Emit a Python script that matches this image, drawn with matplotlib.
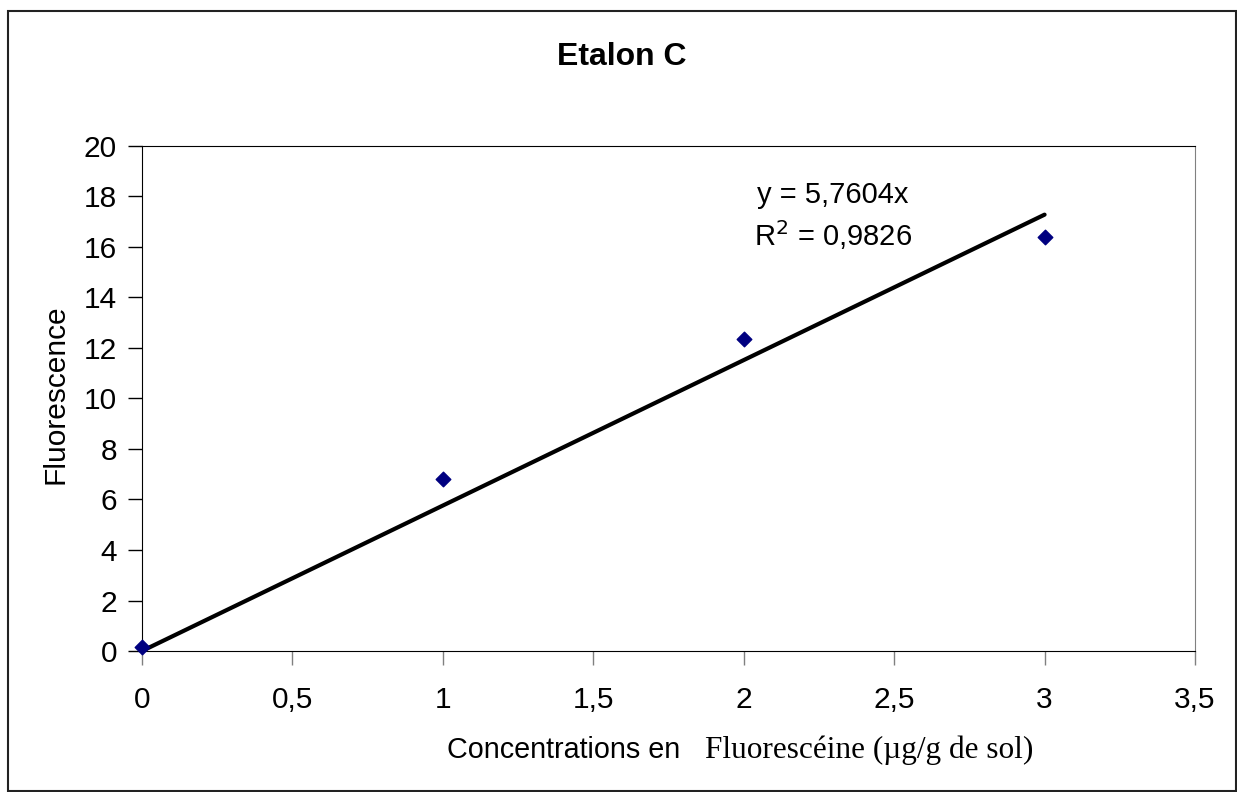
import numpy as np
import matplotlib.pyplot as plt
from matplotlib.patches import Rectangle

conc = [0, 1, 2, 3]
fluo = [0.16, 6.8, 12.34, 16.38]
pente = 5.7604
r2 = 0.9826

xticks = [0, 0.5, 1, 1.5, 2, 2.5, 3, 3.5]
xlabels = ['0', '0,5', '1', '1,5', '2', '2,5', '3', '3,5']
yticks = list(range(0, 21, 2))

fig = plt.figure(figsize=(12.37, 7.92), dpi=100)
fig.patch.set_facecolor('white')
fig.patches.append(Rectangle((8/1237, 1/792), 1228/1237, 780/792, transform=fig.transFigure,
                             fill=False, edgecolor='#222222', linewidth=1.5))

ax = fig.add_axes([142/1237, 141/792, 1053/1237, 505/792])

xr = np.array([0, 3])
ax.plot(xr, pente * xr, color='black', linewidth=3, solid_capstyle='round', zorder=2)
ax.scatter(conc, fluo, marker='D', s=55, color='#000080', zorder=3, clip_on=False)

ax.set_xlim(0, 3.5)
ax.set_ylim(0, 20)
ax.set_xticks(xticks)
ax.set_xticklabels(xlabels)
ax.set_yticks(yticks)

ax.spines['right'].set_color('#808080')
for s in ['left', 'bottom', 'top']:
    ax.spines[s].set_color('black')
ax.tick_params(axis='x', direction='out', length=10, width=1, color='#808080', pad=15,
               labelsize=21.5)
ax.tick_params(axis='y', direction='out', length=10, width=1, color='black', pad=8,
               labelsize=21.5)
for lab in ax.get_xticklabels() + ax.get_yticklabels():
    lab.set_fontfamily('Liberation Sans')

ax.text(2.045, 18.06, 'y = 5,7604x', fontsize=21, family='Liberation Sans', va='center')
ax.text(2.035, 16.48, 'R$^2$ = 0,9826', fontsize=21, family='Liberation Sans', va='center')

fig.text(622/1237, 735/792, 'Etalon C', ha='center', va='center', fontsize=23,
         fontweight='bold', family='Liberation Sans')
fig.text(55/1237, 398/792, 'Fluorescence', rotation=90, ha='center', va='center',
         fontsize=21.5, family='Liberation Sans')
fig.text(447/1237, 42/792, 'Concentrations en', ha='left', va='center',
         fontsize=20.7, family='Liberation Sans')
fig.text(705/1237, 42/792, 'Fluorescéine (µg/g de sol)', ha='left', va='center',
         fontsize=22.5, family='Liberation Serif')

plt.savefig('out.png', dpi=100, facecolor='white')
